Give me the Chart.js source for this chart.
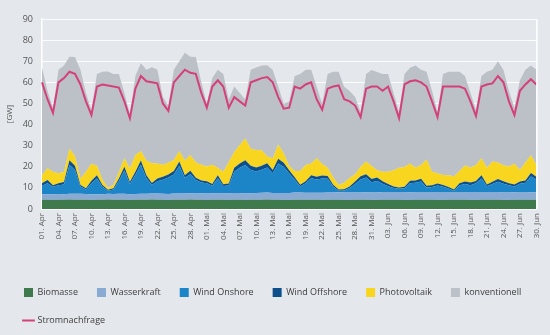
<!DOCTYPE html>
<html lang="de">
<head>
<meta charset="utf-8">
<title>Stromerzeugung und Stromnachfrage April bis Juni</title>
<script src="https://cdn.jsdelivr.net/npm/chart.js@4.4.1/dist/chart.umd.min.js"></script>
<style>
  html, body { margin: 0; background: #e4e7ec; }
  #wrap { width: 550px; height: 335px; position: relative; }
</style>
</head>
<body>
<div id="wrap"><canvas id="myChart"></canvas></div>
<script>
// one entry per day, 01. Apr - 30. Jun
const days = [
  '01. Apr','02. Apr','03. Apr','04. Apr','05. Apr','06. Apr','07. Apr','08. Apr','09. Apr','10. Apr',
  '11. Apr','12. Apr','13. Apr','14. Apr','15. Apr','16. Apr','17. Apr','18. Apr','19. Apr','20. Apr',
  '21. Apr','22. Apr','23. Apr','24. Apr','25. Apr','26. Apr','27. Apr','28. Apr','29. Apr','30. Apr',
  '01. Mai','02. Mai','03. Mai','04. Mai','05. Mai','06. Mai','07. Mai','08. Mai','09. Mai','10. Mai',
  '11. Mai','12. Mai','13. Mai','14. Mai','15. Mai','16. Mai','17. Mai','18. Mai','19. Mai','20. Mai',
  '21. Mai','22. Mai','23. Mai','24. Mai','25. Mai','26. Mai','27. Mai','28. Mai','29. Mai','30. Mai',
  '31. Mai','01. Jun','02. Jun','03. Jun','04. Jun','05. Jun','06. Jun','07. Jun','08. Jun','09. Jun',
  '10. Jun','11. Jun','12. Jun','13. Jun','14. Jun','15. Jun','16. Jun','17. Jun','18. Jun','19. Jun',
  '20. Jun','21. Jun','22. Jun','23. Jun','24. Jun','25. Jun','26. Jun','27. Jun','28. Jun','29. Jun',
  '30. Jun'
]

const yTicks = [0, 10, 20, 30, 40, 50, 60, 70, 80, 90]

// GW
const biomasse = [
  4.4,4.4,4.3,4.4,4.4,4.5,4.4,4.4,4.4,4.3,
  4.4,4.4,4.5,4.4,4.4,4.4,4.3,4.4,4.4,4.4,
  4.5,4.4,4.4,4.3,4.4,4.4,4.4,4.5,4.4,4.4,
  4.3,4.4,4.4,4.4,4.3,4.4,4.4,4.3,4.4,4.4,
  4.4,4.5,4.4,4.4,4.3,4.3,4.4,4.4,4.4,4.4,
  4.4,4.3,4.4,4.4,4.4,4.3,4.3,4.4,4.4,4.4,
  4.3,4.3,4.4,4.4,4.4,4.4,4.3,4.3,4.4,4.4,
  4.4,4.4,4.3,4.3,4.4,4.4,4.4,4.4,4.3,4.3,
  4.4,4.4,4.4,4.4,4.3,4.3,4.4,4.4,4.4,4.4,
  4.4
]
const wasserkraft = [
  2.6,2.6,2.7,2.7,2.6,2.7,2.8,2.8,2.7,2.7,
  2.6,2.6,2.7,2.7,2.8,2.8,2.7,2.7,2.8,2.8,
  2.9,2.9,2.8,2.8,2.9,2.9,3.0,3.0,3.0,3.1,
  3.1,3.1,3.0,3.1,3.2,3.2,3.2,3.1,3.1,3.2,
  3.3,3.3,3.2,3.2,3.3,3.3,3.4,3.4,3.3,3.3,
  3.3,3.4,3.4,3.4,3.5,3.5,3.5,3.4,3.4,3.5,
  3.5,3.5,3.6,3.6,3.6,3.7,3.7,3.6,3.6,3.7,
  3.7,3.7,3.8,3.8,3.7,3.7,3.6,3.6,3.7,3.7,
  3.7,3.6,3.6,3.6,3.5,3.5,3.5,3.6,3.6,3.5,
  3.5
]
const windOnshore = [
  4.0,5.2,3.5,4.1,4.6,13.7,11.3,3.4,2.1,5.2,
  7.5,3.5,1.4,2.1,6.1,11.0,4.9,9.1,13.8,7.4,
  4.0,5.9,6.7,7.8,9.1,13.2,7.4,9.0,6.3,5.1,
  4.8,3.5,7.2,3.4,3.6,10.1,11.9,13.5,11.0,10.2,
  10.9,11.8,9.3,14.0,12.3,9.2,6.0,2.9,4.5,6.9,
  6.3,6.7,6.5,2.9,0.8,1.0,2.1,4.1,6.2,7.0,
  4.9,5.5,4.0,2.8,1.9,1.5,1.8,4.3,4.4,4.9,
  2.1,2.3,3.0,2.4,1.6,0.6,3.2,3.8,3.3,4.2,
  6.4,2.8,3.9,4.9,4.2,3.4,2.8,4.0,4.3,7.5,
  6.1
]
const windOffshore = [
  1.2,1.5,0.8,1.0,1.2,2.2,2.0,0.8,0.6,1.2,
  1.5,0.9,0.5,0.6,1.2,1.8,1.0,1.5,2.0,1.4,
  0.9,1.3,1.4,1.5,1.6,2.0,1.2,1.6,1.1,0.9,
  1.0,0.8,1.4,0.8,1.0,1.8,2.0,2.2,2.0,1.8,
  1.9,2.1,1.6,2.2,2.0,1.6,1.2,0.8,1.0,1.4,
  1.3,1.5,1.3,0.8,0.5,0.6,0.8,1.1,1.5,1.6,
  1.5,1.6,1.2,1.0,0.7,0.6,0.7,1.2,1.1,1.3,
  0.8,0.8,1.0,0.9,0.7,0.5,1.0,1.2,1.2,1.1,
  1.5,0.8,1.0,1.3,1.1,1.0,0.9,1.0,1.2,1.6,
  1.3
]
const photovoltaik = [
  3.8,5.6,6.3,4.7,4.7,5.5,4.5,3.1,7.9,8.0,
  4.5,2.6,1.0,1.6,3.0,4.0,6.3,7.9,4.5,7.0,
  9.4,7.1,5.7,5.5,5.2,5.0,7.0,7.5,7.2,7.5,
  6.9,9.2,3.5,6.0,10.2,7.5,8.8,10.3,8.0,8.4,
  7.3,3.2,5.5,6.7,4.5,2.0,3.0,6.5,7.6,5.6,
  8.7,5.5,3.9,3.5,2.2,3.0,4.0,3.5,4.5,6.0,
  6.2,3.5,4.5,5.9,7.7,9.3,9.4,8.1,6.0,6.5,
  12.5,6.5,4.8,4.7,5.6,6.3,5.8,7.6,7.0,7.6,
  8.0,7.9,9.6,7.8,7.6,7.9,9.8,5.5,8.5,8.5,
  5.5
]
const konventionell = [
  51,36.7,30.3,49.1,50.5,43.5,47,51.5,37.3,25.5,
  43.5,51,55,52.6,46.5,31,25.7,37.4,41.5,43,
  45.4,44.4,32,27,42.8,42.5,51,46.5,50,39,
  29.8,41,46.5,46.3,29.6,31,24.7,18.5,37.5,39,
  40.2,43.2,42,27.5,23.5,30.5,45,46,45.2,44.4,
  34,28.5,44.5,50,53.6,45.5,41.2,36.5,26,41.5,
  45.5,46.5,46.3,46.3,36.7,26.5,44,45.4,48.5,45.2,
  41.5,38.3,29,47.8,49,49.5,47,42.4,35.4,26,
  39,45.5,43.5,48,45.2,35.8,26.6,42.5,44,42.5,
  45.2
]
const stromnachfrage = [
  60,52,45.5,60,62,65,64,59,51,44.5,
  58,59,58.5,58,57.5,51,43,57,63,60.5,
  60,59.5,50,46.5,60,63,66,64.5,64,55,
  48,58,61,58,48,53,51,49,60,61,
  62,62.5,60,53,47.5,48,58,57,59,60,
  52,47,57,58,58.5,52,51,49,43.5,57,
  58,58,56,58,51,43,59,60.5,61,60,
  58,51,43.5,58,58,58,58,57,51,44,
  58,59,59.5,63,60,51,44.5,56,59,61.5,
  59
]

Chart.defaults.font.family = "'Open Sans', sans-serif"
Chart.defaults.color = '#555'

const ctx = document.getElementById('myChart')

function area(label, data, color, fill) {
    return {
        label: label,
        data: data,
        backgroundColor: color,
        borderColor: color,
        borderWidth: 0,
        fill: fill,
        pointRadius: 0,
        pointStyle: 'rect',
        tension: 0,
        stack: 'erzeugung',
        order: 1
    }
}

// white frame line on the right edge of the plot
const frameLine = {
    id: 'frameLine',
    afterDatasetsDraw(chart) {
        const { ctx, chartArea } = chart
        ctx.save()
        ctx.strokeStyle = '#ffffff'
        ctx.lineWidth = 1.5
        ctx.beginPath()
        ctx.moveTo(chartArea.right + 0.5, chartArea.top)
        ctx.lineTo(chartArea.right + 0.5, chartArea.bottom)
        ctx.stroke()
        ctx.restore()
    }
}

new Chart(ctx, {
    type: 'line',
    data: {
        labels: days,
        datasets: [
            area('Biomasse', biomasse, '#3e7a4b', 'origin'),
            area('Wasserkraft', wasserkraft, '#88aad3', '-1'),
            area('Wind Onshore', windOnshore, '#1c85c8', '-1'),
            area('Wind Offshore', windOffshore, '#0d4f8b', '-1'),
            area('Photovoltaik', photovoltaik, '#f8d61f', '-1'),
            area('konventionell', konventionell, '#bcc1c7', '-1'),
            {
                label: 'Stromnachfrage',
                data: stromnachfrage,
                borderColor: '#d4407b',
                backgroundColor: '#d4407b',
                borderWidth: 2,
                pointRadius: 0,
                pointStyle: 'line',
                fill: false,
                tension: 0,
                stack: 'nachfrage',
                order: 0
            }
        ]
    },
    options: {
        responsive: true,
        maintainAspectRatio: false,
        animation: false,
        layout: { padding: { top: 19, right: 9, left: 5, bottom: 0 } },
        plugins: {
            tooltip: { enabled: false },
            legend: {
                position: 'bottom',
                align: 'start',
                labels: {
                    usePointStyle: true,
                    boxWidth: 10,
                    boxHeight: 10,
                    padding: 19,
                    color: '#3c3c3c',
                    font: { size: 9 },
                    sort: (a, b) => a.datasetIndex - b.datasetIndex
                }
            }
        },
        scales: {
            x: {
                grid: { display: false, drawTicks: false },
                border: { display: true, color: '#ffffff', width: 1.5 },
                ticks: {
                    autoSkip: false,
                    minRotation: 90,
                    maxRotation: 90,
                    padding: 4,
                    font: { size: 8 },
                    color: '#555',
                    callback: (val, i) => i % 3 === 0 ? days[i] : ''
                },
                afterFit: (scale) => { scale.height = 60 }
            },
            y: {
                stacked: true,
                min: yTicks[0],
                max: yTicks[yTicks.length - 1],
                grid: { color: 'rgba(255,255,255,0.9)', lineWidth: 1, drawTicks: false },
                border: { display: true, color: '#ffffff', width: 1.5 },
                ticks: {
                    stepSize: 10,
                    padding: 9,
                    font: { size: 9 },
                    color: '#555'
                },
                title: { display: true, text: '[GW]', font: { size: 8 }, color: '#555', padding: { top: 0, bottom: 2 } },
                afterFit: (scale) => { scale.width = 37 }
            }
        }
    },
    plugins: [frameLine]
})
</script>
</body>
</html>
